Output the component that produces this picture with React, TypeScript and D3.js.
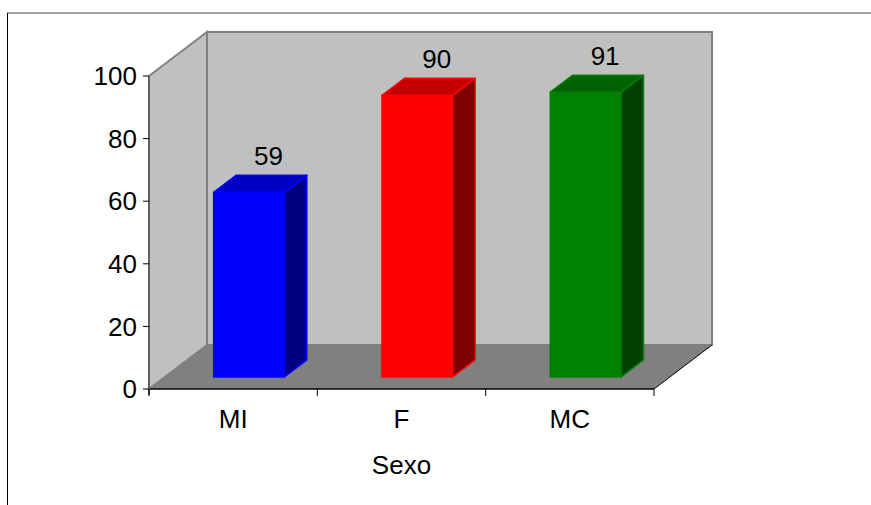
import React from "react";
import * as d3 from "d3";

// Data
const categories = ["MI", "F", "MC"];
const values = [59, 90, 91];
const yTicks = [0, 20, 40, 60, 80, 100];
const axisTitle = "Sexo";

const faceColors = [
  { front: "#0000ff", top: "#0000c4", side: "#000080" },
  { front: "#ff0000", top: "#c40000", side: "#800000" },
  { front: "#008000", top: "#006200", side: "#004000" },
];

const W = 871;
const H = 505;
const FONT = "'Liberation Sans', Arial, sans-serif";

export default function App() {
  // Front plane of the 3D box
  const left = 149;
  const right = 654;
  const bottom = 389;
  const top = 76;
  // Depth offset of the back wall
  const DX = 58;
  const DY = 44;

  const y = d3.scaleLinear().domain([0, 100]).range([bottom, top]);
  const x = d3.scaleBand<string>().domain(categories).range([left, right]).padding(0);
  const barW = x.bandwidth() * 0.42;
  const d0 = 0.273; // front of bars as fraction of depth
  const d1 = 0.66; // back of bars

  const pt = (px: number, py: number, d: number) => `${px + d * DX},${py - d * DY}`;

  const sideWall = [pt(left, top, 0), pt(left, top, 1), pt(left, bottom, 1), pt(left, bottom, 0)].join(" ");
  const backWall = [pt(left, top, 1), pt(right, top, 1), pt(right, bottom, 1), pt(left, bottom, 1)].join(" ");
  const floor = [pt(left, bottom, 0), pt(left, bottom, 1), pt(right, bottom, 1), pt(right, bottom, 0)].join(" ");

  const catTicks = [left, ...categories.map((c) => (x(c) as number) + x.bandwidth())];

  return (
    <svg width={W} height={H} style={{ position: "absolute", left: 0, top: 0 }} fontFamily={FONT}>
      <rect x={0} y={0} width={W} height={H} fill="#ffffff" />
      {/* outer frame */}
      <line x1={7} y1={13} x2={W} y2={13} stroke="#808080" strokeWidth={1.5} />
      <line x1={7.5} y1={13} x2={7.5} y2={H} stroke="#000000" strokeWidth={1} />

      {/* walls and floor */}
      <polygon points={sideWall} fill="#c0c0c0" stroke="#808080" strokeWidth={2} />
      <polygon points={backWall} fill="#c0c0c0" stroke="#808080" strokeWidth={2} />
      <polygon points={floor} fill="#808080" />
      <line x1={right} y1={bottom} x2={right + DX} y2={bottom - DY} stroke="#000" strokeWidth={1} />
      <line x1={left} y1={bottom} x2={right} y2={bottom} stroke="#000" strokeWidth={1.5} />

      {/* value axis */}
      <line x1={left} y1={top} x2={left} y2={bottom + 6} stroke="#606060" strokeWidth={2} />
      {yTicks.map((t) => (
        <g key={t}>
          <line x1={left - 6} y1={y(t)} x2={left} y2={y(t)} stroke="#000" strokeWidth={1} />
          <text x={left - 12} y={y(t)} dy="0.35em" textAnchor="end" fontSize={26} fill="#000">
            {t}
          </text>
        </g>
      ))}

      {/* category axis */}
      {catTicks.map((tx, i) => (
        <line key={i} x1={tx} y1={bottom} x2={tx} y2={bottom + 7} stroke="#000" strokeWidth={1} />
      ))}
      {categories.map((c) => (
        <text
          key={c}
          x={(x(c) as number) + x.bandwidth() / 2}
          y={428}
          textAnchor="middle"
          fontSize={26}
          fill="#000"
        >
          {c}
        </text>
      ))}
      <text x={(left + right) / 2} y={474} textAnchor="middle" fontSize={26} fill="#000">
        {axisTitle}
      </text>

      {/* bars */}
      {categories.map((c, i) => {
        const cx = (x(c) as number) + x.bandwidth() / 2;
        const x0 = cx - barW / 2;
        const x1 = cx + barW / 2;
        const yb = y(0);
        const yt = y(values[i]);
        const col = faceColors[i];
        const front = [pt(x0, yt, d0), pt(x1, yt, d0), pt(x1, yb, d0), pt(x0, yb, d0)].join(" ");
        const topFace = [pt(x0, yt, d0), pt(x0, yt, d1), pt(x1, yt, d1), pt(x1, yt, d0)].join(" ");
        const side = [pt(x1, yt, d0), pt(x1, yt, d1), pt(x1, yb, d1), pt(x1, yb, d0)].join(" ");
        const labelX = cx + d1 * DX - 3;
        const labelY = yt - d1 * DY - 10;
        return (
          <g key={c}>
            <polygon points={front} fill={col.front} stroke={col.front} strokeWidth={1.5} strokeLinejoin="round" />
            <polygon points={side} fill={col.side} stroke={col.front} strokeWidth={1.5} strokeLinejoin="round" />
            <polygon points={topFace} fill={col.top} stroke={col.front} strokeWidth={1.5} strokeLinejoin="round" />
            <text x={labelX} y={labelY} textAnchor="middle" fontSize={26} fill="#000">
              {values[i]}
            </text>
          </g>
        );
      })}
    </svg>
  );
}
